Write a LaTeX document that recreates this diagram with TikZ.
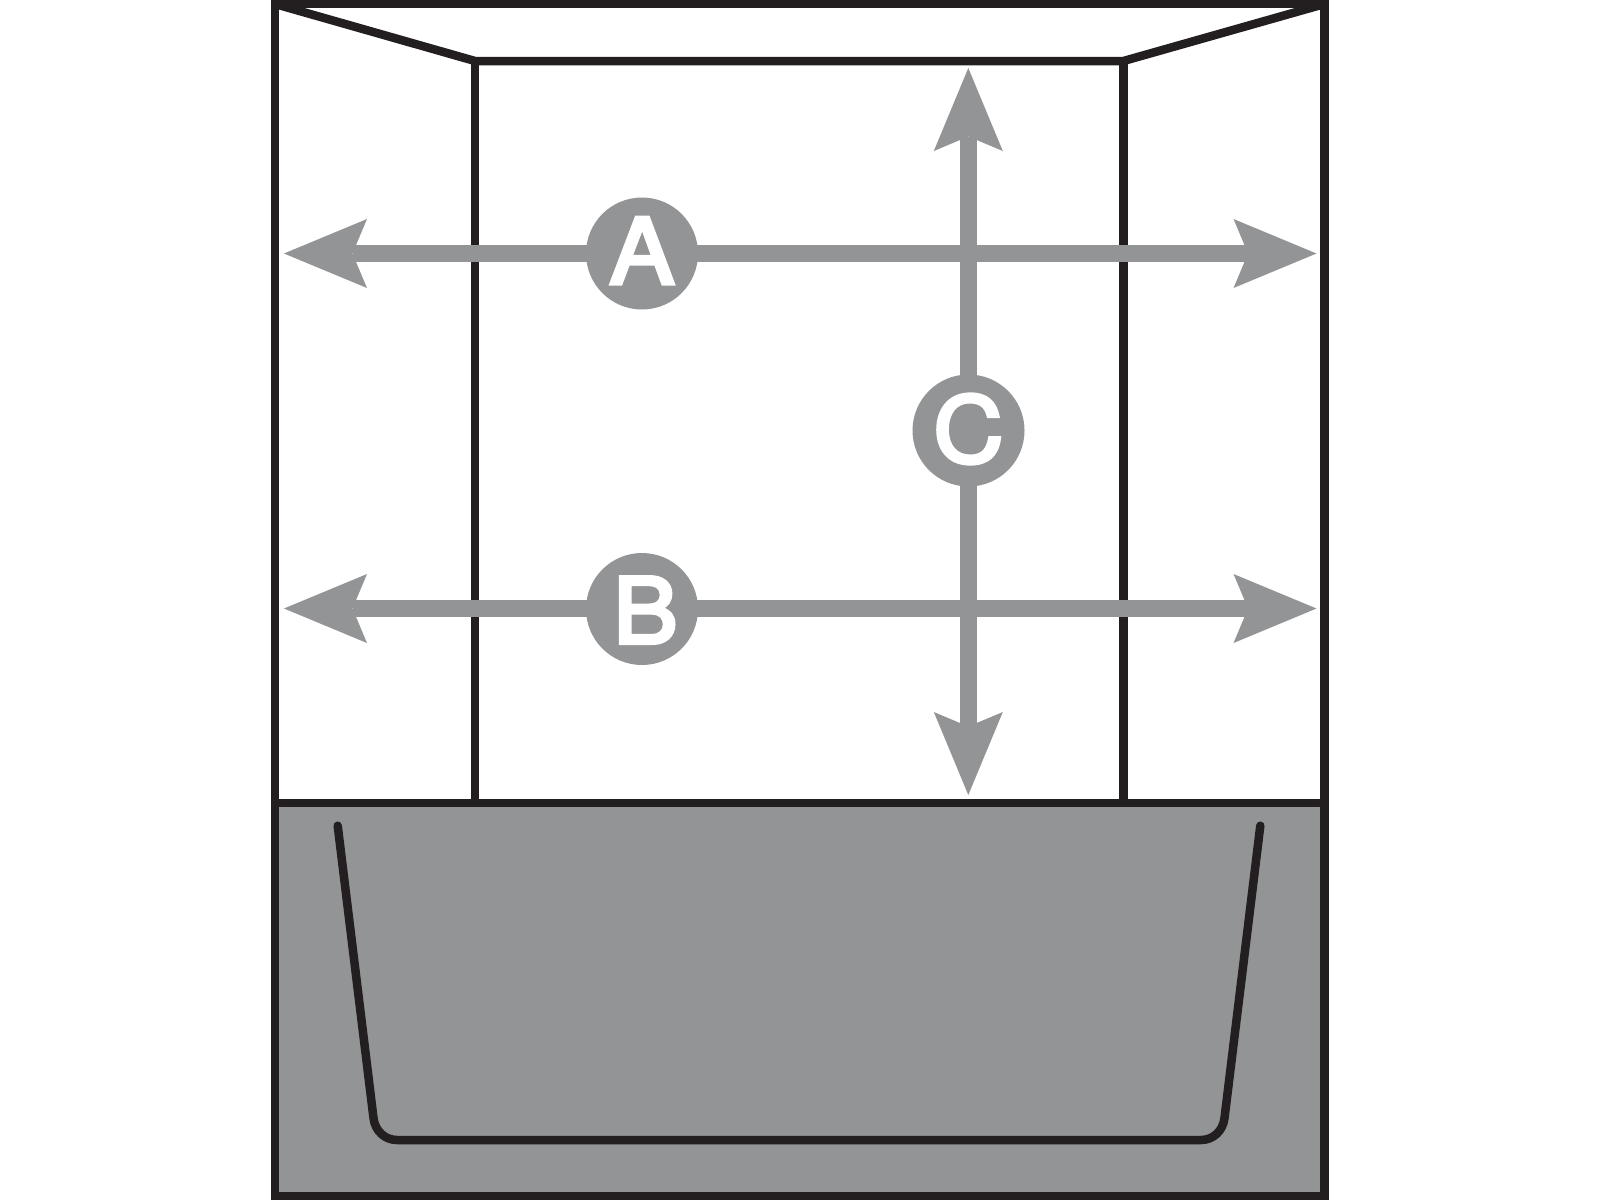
\documentclass[tikz,border=0pt]{standalone}
\usepackage{fontspec}
\setmainfont{TeX Gyre Heros}
\newfontfamily\badgefont[FakeBold=4, FakeStretch=1.07]{TeX Gyre Heros}
\usetikzlibrary{arrows.meta}
\definecolor{walldark}{HTML}{231F20}
\definecolor{panelgrey}{HTML}{929496}
\tikzset{
  surround/.style={
	x=1pt, y=-1pt, % one unit is one pixel of the picture
	wall/.style={draw=walldark, line width=8.5pt}, % the black outlines
	measure/.style={
	  draw=panelgrey, line width=16.5pt,
	  {Stealth[length=83pt, width=69pt, inset=14.5pt, line width=0pt]}-{Stealth[length=83pt, width=69pt, inset=14.5pt, line width=0pt]}
	}, % double headed grey arrows
	badge/.style={circle, fill=panelgrey, text=white, inner sep=0pt, minimum size=112pt,
	  font=\fontsize{91}{91}\badgefont}, % lettered discs
  }
}
\begin{document}
\begin{tikzpicture}[surround]
	  \useasboundingbox (0,0) rectangle (1600,1200);
	  \coordinate (tl) at (275,4);
	  \coordinate (tr) at (1324.5,4);
	  \coordinate (bl) at (275,1196);
	  \coordinate (br) at (1324.5,1196);
	  \coordinate (sl) at (275,803);
	  \coordinate (sr) at (1324.5,803);
	  \coordinate (il) at (475,61);
	  \coordinate (ir) at (1123.5,61);
	  \coordinate (jl) at (475,803);
	  \coordinate (jr) at (1123.5,803);
	  \coordinate (a0) at (284,253.5);
	  \coordinate (a1) at (1316.5,253.5);
	  \coordinate (b0) at (284,608.5);
	  \coordinate (b1) at (1316.5,608.5);
	  \coordinate (c0) at (968.3,68);
	  \coordinate (c1) at (968.3,795);
	  \coordinate (t0) at (337.7,825.7);
	  \coordinate (t1) at (1260.3,825.7);
	  % panel and room
	  \fill[panelgrey] (sl) rectangle (br);
	  \draw[wall] (tl) rectangle (br);
	  \draw[wall] (sl) -- (sr);
	  \draw[wall] (tl) -- (il) -- (ir) -- (tr);
	  \draw[wall] (il) -- (jl);
	  \draw[wall] (ir) -- (jr);
	  % tub
	  \draw[wall, line cap=round, line join=round] (t0) -- (373.5,1118)
		  .. controls (375,1131) and (385,1140) .. (397,1140) -- (1201,1140)
		  .. controls (1213,1140) and (1223,1131) .. (1224.5,1118) -- (t1);
	  % dimensions
	  \draw[measure] (a0) -- (a1);
	  \draw[measure] (b0) -- (b1);
	  \draw[measure] (c0) -- (c1);
	  \node[badge] (ba) at (642,253.5) {\raisebox{3pt}[\height][\depth]{A}};
	  \node[badge] (bb) at (642,609) {\raisebox{-1pt}[\height][\depth]{\hspace*{7pt}B}};
	  \node[badge] (bc) at (968.5,430.5) {\raisebox{1.5pt}[\height][\depth]{C}};
\end{tikzpicture}
\end{document}
